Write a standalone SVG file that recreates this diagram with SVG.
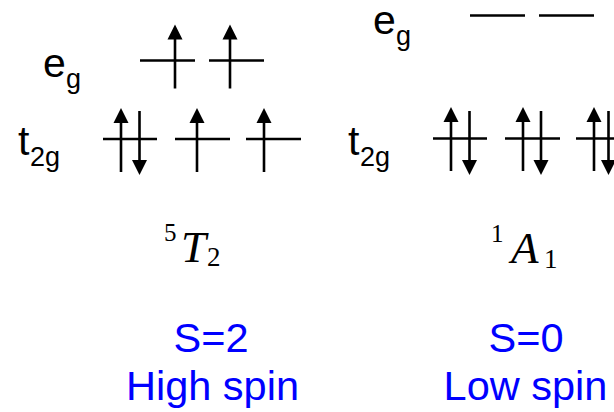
<svg xmlns="http://www.w3.org/2000/svg" xmlns:xlink="http://www.w3.org/1999/xlink" width="614" height="412" viewBox="0 0 614 412">
<style>
.lvl{stroke:#000;stroke-width:2.6;fill:none}
.lab{font-family:"Liberation Sans",Arial,sans-serif;font-size:41px;fill:#000}
.sub{font-family:"Liberation Sans",Arial,sans-serif;font-size:27px;fill:#000}
.term{font-family:"Liberation Serif","Times New Roman",serif;fill:#000}
.blue{font-family:"Liberation Sans",Arial,sans-serif;font-size:41.5px;fill:#0000FF;text-anchor:middle}
</style>
<defs>
<g id="up"><line x1="0" y1="12" x2="0" y2="64" class="lvl"/><polygon points="0,0 -7.5,15 7.5,15" fill="#000"/></g>
<g id="down"><line x1="0" y1="0" x2="0" y2="52" class="lvl"/><polygon points="0,64 -7.5,49 7.5,49" fill="#000"/></g>
</defs>
<rect width="614" height="412" fill="#fff"/>

<g id="hs-labels">
<text class="lab" x="43" y="77">e</text><text class="sub" x="66" y="88">g</text>
<text class="lab" x="18" y="155">t</text><text class="sub" x="30" y="166">2g</text>
</g>
<g id="hs-eg">
<line class="lvl" x1="140" y1="60.5" x2="195" y2="60.5"/>
<line class="lvl" x1="209" y1="60.5" x2="264" y2="60.5"/>
<use xlink:href="#up" x="175" y="24.5"/>
<use xlink:href="#up" x="230" y="24.5"/>
</g>
<g id="hs-t2g">
<line class="lvl" x1="103" y1="139" x2="157" y2="139"/>
<line class="lvl" x1="175" y1="139" x2="230" y2="139"/>
<line class="lvl" x1="246" y1="139" x2="301" y2="139"/>
<use xlink:href="#up" x="121" y="108"/>
<use xlink:href="#down" x="139.5" y="111"/>
<use xlink:href="#up" x="197" y="108"/>
<use xlink:href="#up" x="264" y="108"/>
</g>

<g id="ls-labels">
<text class="lab" x="373" y="33.5">e</text><text class="sub" x="396" y="44.5">g</text>
<text class="lab" x="348" y="155">t</text><text class="sub" x="360" y="166">2g</text>
</g>
<g id="ls-eg">
<line class="lvl" x1="470" y1="15.5" x2="525" y2="15.5"/>
<line class="lvl" x1="539" y1="15.5" x2="594" y2="15.5"/>
</g>
<g id="ls-t2g">
<line class="lvl" x1="433" y1="138.5" x2="487" y2="138.5"/>
<line class="lvl" x1="505" y1="138.5" x2="560" y2="138.5"/>
<line class="lvl" x1="576" y1="138.5" x2="631" y2="138.5"/>
<use xlink:href="#up" x="451" y="107"/>
<use xlink:href="#down" x="469.5" y="111"/>
<use xlink:href="#up" x="523" y="107"/>
<use xlink:href="#down" x="541" y="111"/>
<use xlink:href="#up" x="594" y="107"/>
<use xlink:href="#down" x="608.5" y="111"/>
</g>

<g id="term-hs">
<text class="term" x="164" y="241" font-size="25">5</text>
<text class="term" x="181" y="262" font-size="45" font-style="italic">T</text>
<text class="term" x="207" y="266" font-size="27">2</text>
</g>
<g id="term-ls">
<text class="term" x="491" y="242" font-size="25">1</text>
<text class="term" x="511" y="263" font-size="45" font-style="italic">A</text>
<text class="term" x="544" y="268" font-size="27">1</text>
</g>

<g id="hs-spin">
<text class="blue" x="211" y="352">S=2</text>
<text class="blue" x="212.5" y="400">High spin</text>
</g>
<g id="ls-spin">
<text class="blue" x="526" y="352">S=0</text>
<text class="blue" x="525.5" y="400">Low spin</text>
</g>
</svg>
